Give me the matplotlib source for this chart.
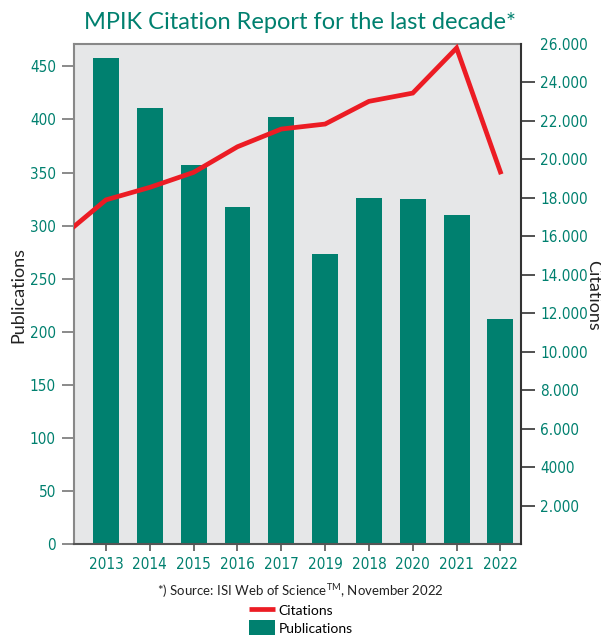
import os
import numpy as np
import matplotlib
matplotlib.use('Agg')
import matplotlib.pyplot as plt
from matplotlib import font_manager
from matplotlib.font_manager import FontProperties
from matplotlib.lines import Line2D
from matplotlib.patches import Patch

# Data
years = ['2013', '2014', '2015', '2016', '2017', '2019', '2018', '2020', '2021', '2022']
publications = [458, 411, 357, 318, 402, 273, 326, 325, 310, 212]
# first value is the year before 2013, cut off by the left edge of the plot
citations = [16000, 17900, 18550, 19330, 20660, 21580, 21840, 23020, 23450, 25790, 19350]

teal = '#00806F'
red = '#EC1C24'
bg = '#E6E7E8'

plt.rcParams['font.family'] = ['Lato', 'DejaVu Sans']
plt.rcParams['mathtext.fontset'] = 'custom'
plt.rcParams['mathtext.rm'] = 'Lato'


# tick labels use a narrow face if one is installed
def narrow_font(size):
    wanted = ['liberationsansnarrow-regular.', 'liberationsansnarrow-bold.',
              'dejavusanscondensed.', 'robotocondensed-regular.']
    files = [f.fname for f in font_manager.fontManager.ttflist]
    for key in wanted:
        for fname in files:
            if os.path.basename(fname).lower().startswith(key):
                return FontProperties(fname=fname, size=size)
    return FontProperties(family='Roboto', weight='medium', size=size - 1)


tick_font = narrow_font(11)

fig = plt.figure(figsize=(6.01, 6.35), dpi=100)
ax = fig.add_axes([0.1231, 0.1428, 0.7438, 0.7879])
ax.set_facecolor(bg)

x = np.arange(len(years))
ax.bar(x, publications, width=0.59, color=teal, zorder=2)
ax.set_xlim(-0.73, 9.47)
ax.set_ylim(0, 471)
ax.set_yticks(range(0, 451, 50))
ax.set_xticks(x)
ax.set_xticklabels(years)

for lbl in ax.get_xticklabels() + ax.get_yticklabels():
    lbl.set_fontproperties(tick_font)
    lbl.set_color(teal)
ax.tick_params(axis='y', length=9, width=1.2, color='#777777', pad=4)
ax.tick_params(axis='x', length=5, width=1.2, color='#555555', pad=4)

for side in ['left', 'top']:
    ax.spines[side].set_color('#888888')
    ax.spines[side].set_linewidth(1.5)
ax.spines['bottom'].set_color('#555555')
ax.spines['bottom'].set_linewidth(1.5)
ax.spines['right'].set_visible(False)

# Citations on the right axis
ax2 = ax.twinx()
cx = np.arange(-1, len(years))
ax2.plot(cx, citations, color=red, linewidth=3.4, solid_joinstyle='miter', zorder=3)
ax2.set_ylim(0, 26000)
ticks2 = list(range(2000, 26001, 2000))
ax2.set_yticks(ticks2)
ax2.set_yticklabels([f'{v // 1000}.000' if v != 4000 else '4000' for v in ticks2])
ax2.yaxis.get_major_ticks()[-1].tick2line.set_visible(False)
for lbl in ax2.get_yticklabels():
    lbl.set_fontproperties(tick_font)
    lbl.set_color(teal)
ax2.tick_params(axis='y', length=10, width=1.2, color='#333333', pad=4)
ax2.spines['right'].set_color('#333333')
ax2.spines['right'].set_linewidth(1.5)
for side in ['left', 'top', 'bottom']:
    ax2.spines[side].set_visible(False)

# axis titles placed by hand so they stay inside the figure
fig.text(0.030, 0.535, 'Publications', rotation=90, ha='center', va='center',
         fontsize=13, color='#222222')
fig.text(0.987, 0.535, 'Citations', rotation=270, ha='center', va='center',
         fontsize=13, color='#222222')

fig.text(0.5, 0.964, 'MPIK Citation Report for the last decade*', ha='center', va='center',
         fontsize=17, color=teal)
fig.text(0.5, 0.069, r'*) Source: ISI Web of Science$^{\rm TM}$, November 2022', ha='center',
         va='center', fontsize=9.5, color='#222222')

handles = [Line2D([0], [0], color=red, linewidth=3.4, solid_capstyle='butt'),
           Patch(facecolor=teal, edgecolor='none')]
fig.legend(handles, ['Citations', 'Publications'], loc='upper left',
           bbox_to_anchor=(0.414, 0.052), frameon=False, fontsize=10,
           handlelength=1.9, handleheight=1.5, handletextpad=0.25, labelspacing=0.05,
           borderpad=0, borderaxespad=0)

fig.savefig('out.png', dpi=100)
